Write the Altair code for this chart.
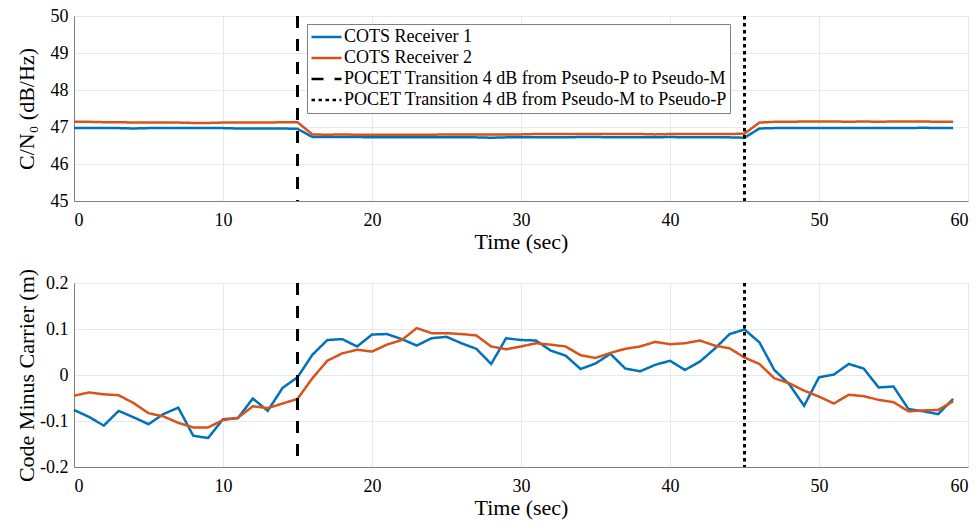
import altair as alt
import pandas as pd

time = list(range(60))

series_names = [
    "COTS Receiver 1",
    "COTS Receiver 2",
    "POCET Transition 4 dB from Pseudo-P to Pseudo-M",
    "POCET Transition 4 dB from Pseudo-M to Pseudo-P",
]
transition_times = [15, 45]

cn0_r1 = [46.97, 46.97, 46.97, 46.97, 46.96, 46.97, 46.97, 46.97, 46.97, 46.97,
          46.97, 46.96, 46.96, 46.96, 46.96, 46.95,
          46.73, 46.73, 46.73, 46.73, 46.72, 46.72, 46.72, 46.72, 46.72, 46.72,
          46.72, 46.72, 46.71, 46.72, 46.72, 46.72, 46.72, 46.72, 46.73, 46.73,
          46.72, 46.72, 46.72, 46.72, 46.73, 46.72, 46.72, 46.72, 46.72, 46.71,
          46.96, 46.97, 46.97, 46.97, 46.97, 46.97, 46.97, 46.97, 46.97, 46.97,
          46.97, 46.98, 46.97, 46.97]
cn0_r2 = [47.14, 47.14, 47.13, 47.13, 47.12, 47.12, 47.12, 47.12, 47.11, 47.11,
          47.12, 47.12, 47.12, 47.12, 47.13, 47.13,
          46.80, 46.79, 46.80, 46.79, 46.79, 46.79, 46.79, 46.79, 46.79, 46.80,
          46.80, 46.80, 46.80, 46.80, 46.80, 46.81, 46.81, 46.81, 46.81, 46.81,
          46.81, 46.81, 46.81, 46.80, 46.81, 46.81, 46.81, 46.81, 46.81, 46.82,
          47.12, 47.14, 47.14, 47.15, 47.15, 47.15, 47.14, 47.15, 47.14, 47.15,
          47.15, 47.15, 47.14, 47.14]

cmc_r1 = [-0.076, -0.091, -0.110, -0.078, -0.092, -0.107, -0.085, -0.071, -0.132, -0.137,
          -0.096, -0.094, -0.051, -0.078, -0.028, -0.005, 0.044, 0.076, 0.078, 0.062,
          0.088, 0.089, 0.078, 0.064, 0.080, 0.083, 0.069, 0.057, 0.024, 0.080,
          0.076, 0.075, 0.053, 0.042, 0.013, 0.025, 0.046, 0.014, 0.008, 0.022,
          0.031, 0.011, 0.029, 0.057, 0.089, 0.099, 0.071, 0.011, -0.020, -0.067,
          -0.005, 0.001, 0.024, 0.014, -0.027, -0.025, -0.074, -0.079, -0.085, -0.052]
cmc_r2 = [-0.045, -0.038, -0.042, -0.044, -0.061, -0.083, -0.090, -0.104, -0.114, -0.114,
          -0.098, -0.093, -0.068, -0.072, -0.062, -0.052, -0.007, 0.031, 0.047, 0.055,
          0.051, 0.066, 0.076, 0.102, 0.091, 0.091, 0.089, 0.086, 0.062, 0.056,
          0.062, 0.069, 0.066, 0.062, 0.043, 0.037, 0.048, 0.057, 0.062, 0.072,
          0.067, 0.069, 0.075, 0.064, 0.058, 0.038, 0.024, -0.007, -0.018, -0.034,
          -0.047, -0.062, -0.043, -0.046, -0.054, -0.059, -0.079, -0.077, -0.076, -0.057]

colors = ["#0072BD", "#D95319", "#000000", "#000000"]
dashes = [[12, 11], [3.5, 3.5]]
dash_range = [[1, 0], [1, 0]] + dashes

top_df = pd.DataFrame({"t": time * 2, "v": cn0_r1 + cn0_r2,
                       "series": [series_names[0]] * 60 + [series_names[1]] * 60})
bot_df = pd.DataFrame({"t": time * 2, "v": cmc_r1 + cmc_r2,
                       "series": [series_names[0]] * 60 + [series_names[1]] * 60})
rules_df = pd.DataFrame({"t": transition_times, "series": series_names[2:]})

color_scale = alt.Scale(domain=series_names, range=colors)
dash_scale = alt.Scale(domain=series_names, range=dash_range)

FONT = "Liberation Serif"
BOX = "#808080"


def panel(df, ytitle, ydomain, yvalues, legend, height, ytitle_pad, label_expr=None):
    x = alt.X("t:Q", scale=alt.Scale(domain=[0, 60], nice=False),
              axis=alt.Axis(title="Time (sec)", values=list(range(0, 61, 10)),
                            labelFont=FONT, titleFont=FONT,
                            labelPadding=10, titlePadding=2))
    axis_kw = dict(title=ytitle, values=yvalues, labelFont=FONT, titleFont=FONT,
                   labelPadding=6, titlePadding=ytitle_pad)
    if label_expr:
        axis_kw["labelExpr"] = label_expr
    y = alt.Y("v:Q", scale=alt.Scale(domain=ydomain, nice=False, zero=False),
              axis=alt.Axis(**axis_kw))
    lines = alt.Chart(df).mark_line(strokeWidth=2.5).encode(
        x=x, y=y,
        color=alt.Color("series:N", scale=color_scale, legend=legend),
        strokeDash=alt.StrokeDash("series:N", scale=dash_scale, legend=legend),
    )
    rules = alt.Chart(rules_df).mark_rule(strokeWidth=3).encode(
        x=alt.X("t:Q"),
        color=alt.Color("series:N", scale=color_scale, legend=legend),
        strokeDash=alt.StrokeDash("series:N", scale=dash_scale, legend=legend),
    )
    return alt.layer(lines, rules).properties(width=894, height=height)


legend = alt.Legend(
    title=None, orient="none", legendX=233, legendY=8,
    symbolType="stroke", symbolSize=900, symbolStrokeWidth=2.5,
    labelFont=FONT, labelFontSize=18, labelLimit=600, labelColor="black",
    fillColor="white", strokeColor=BOX, padding=3, rowPadding=1,
    clipHeight=20, symbolOffset=0, labelOffset=1,
)

top = panel(top_df, "C/N₀ (dB/Hz)", [45, 50], [45, 46, 47, 48, 49, 50], legend, 185, 12)
bottom = panel(bot_df, "Code Minus Carrier (m)", [-0.2, 0.2],
               [-0.2, -0.1, 0, 0.1, 0.2], None, 184, 1,
               label_expr="datum.value < 0 ? '-' + format(-datum.value, '.1~f') : format(datum.value, '.1~f')")

chart = alt.vconcat(top, bottom, spacing=14).resolve_scale(
    color="independent", strokeDash="independent"
).resolve_legend(color="independent", strokeDash="independent").properties(
    padding={"left": 14, "top": 6, "right": 3, "bottom": 4}
).configure(font=FONT).configure_view(stroke=BOX, strokeWidth=1).configure_axis(
    labelFont=FONT, titleFont=FONT, labelFontSize=18, titleFontSize=22,
    titleFontWeight="normal", labelColor="black", titleColor="black",
    gridColor="#e8e8e8", domainColor=BOX, ticks=False,
)

chart.save("out.html", embed_options={"renderer": "svg", "actions": False})
